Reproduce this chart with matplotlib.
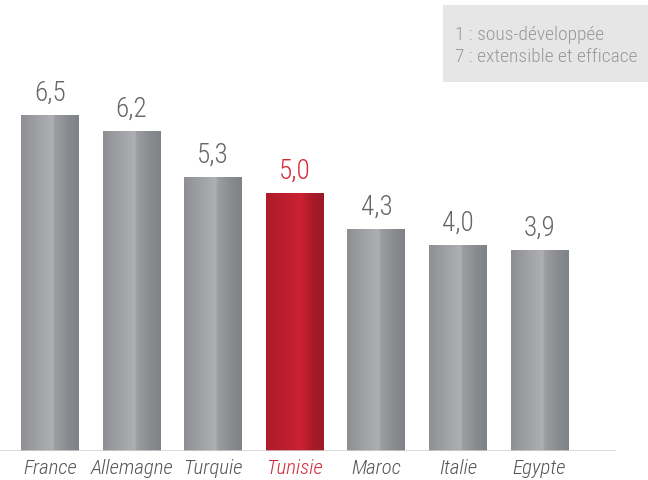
import matplotlib
matplotlib.use("Agg")
import matplotlib.pyplot as plt
import numpy as np
from matplotlib.patches import Rectangle
from matplotlib.colors import LinearSegmentedColormap

categories = ["France", "Allemagne", "Turquie", "Tunisie", "Maroc", "Italie", "Egypte"]
values = [6.5, 6.2, 5.3, 5.0, 4.3, 4.0, 3.9]
value_labels = ["6,5", "6,2", "5,3", "5,0", "4,3", "4,0", "3,9"]
highlight = "Tunisie"
legend_lines = ["1 : sous-développée", "7 : extensible et efficace"]

FONT = ["Roboto Condensed", "Roboto", "DejaVu Sans"]
plt.rcParams['font.family'] = FONT

gray_cmap = LinearSegmentedColormap.from_list(
    "g", [(0, "#8d8f92"), (0.3, "#a0a2a5"), (0.55, "#aeb0b3"), (0.58, "#9c9ea1"), (0.8, "#8a8c90"), (1, "#7e8185")])
red_cmap = LinearSegmentedColormap.from_list(
    "r", [(0, "#b01b2a"), (0.3, "#bb1e2d"), (0.6, "#cb2232"), (0.8, "#a91b28"), (1, "#981a25")])

fig = plt.figure(figsize=(6.48, 4.8), dpi=100)
ax = fig.add_axes([0, 1 - 451/480, 1, 413/480])
ax.set_xlim(-50/81.6, (648-50)/81.6)
ax.set_ylim(0, 8)

x = np.arange(len(categories))
bars = ax.bar(x, values, width=0.71, color="none", edgecolor="none")
grad = np.linspace(0, 1, 256).reshape(1, -1)
for b, cat in zip(bars, categories):
    cmap = red_cmap if cat == highlight else gray_cmap
    x0, y0 = b.get_x(), b.get_y()
    im = ax.imshow(grad, cmap=cmap, aspect="auto",
                   extent=(x0, x0 + b.get_width(), y0, y0 + b.get_height()),
                   zorder=2)
    im.set_clip_path(b)

for xi, v, lab, cat in zip(x, values, value_labels, categories):
    c = "#d42a3a" if cat == highlight else "#666666"
    ax.text(xi, v + 0.16, lab, ha="center", va="bottom", fontsize=19.5,
            color=c, family=FONT, fontweight="light", fontstretch="condensed")

ax.set_xticks(x)
ax.set_xticklabels(categories, fontsize=15, style="italic", family=FONT,
                   fontweight="light", fontstretch="condensed")
for t, cat in zip(ax.get_xticklabels(), categories):
    t.set_color("#d42a3a" if cat == highlight else "#555555")
ax.tick_params(axis="x", length=0, pad=6)
ax.set_yticks([])
for s in ax.spines.values():
    s.set_visible(False)
ax.axhline(0, xmin=0, xmax=614/648, color="#cfcfcf", lw=1.8, zorder=3)

fig.patches.append(Rectangle((443/648, 1 - 82/480), (648-443)/648, 77/480,
                             transform=fig.transFigure, facecolor="#e6e6e6",
                             edgecolor="none", zorder=0))
for i, line in enumerate(legend_lines):
    fig.text(455/648, 1 - (35 + 22*i)/480, line, fontsize=14, color="#999999",
             va="center", ha="left", family=FONT, fontweight="light",
             fontstretch="condensed")

fig.savefig("out.png", dpi=100)
